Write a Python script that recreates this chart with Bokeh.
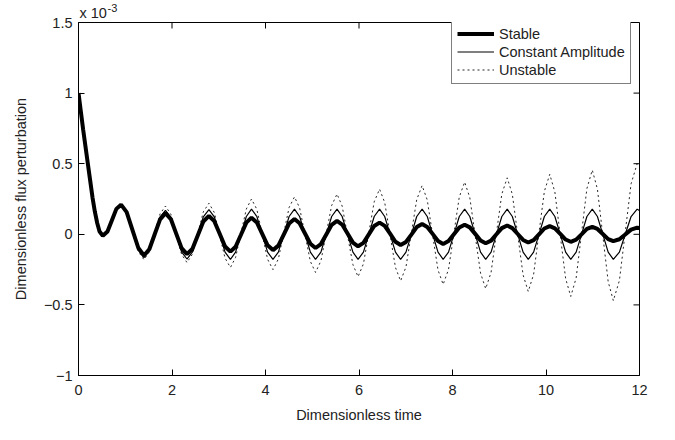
from bokeh.plotting import figure
from bokeh.models import (Range1d, FixedTicker, Legend, LegendItem, Title)
from bokeh.embed import file_html
from bokeh.resources import INLINE

# Dimensionless time
t = [0, 0.05, 0.10, 0.15, 0.20, 0.25, 0.30, 0.35, 0.40, 0.45, 0.52, 0.62, 0.715, 0.81, 0.91,
     1.03, 1.155, 1.28, 1.40, 1.515, 1.63, 1.745, 1.86, 1.975, 2.09, 2.205, 2.32,
     2.44, 2.555, 2.67, 2.79, 2.905, 3.02, 3.135, 3.25, 3.36, 3.475, 3.59, 3.70,
     3.815, 3.93, 4.045, 4.16, 4.275, 4.39, 4.505, 4.62, 4.73, 4.845, 4.96, 5.07,
     5.185, 5.30, 5.415, 5.53, 5.64, 5.755, 5.87, 5.98, 6.095, 6.21, 6.325, 6.44,
     6.55, 6.665, 6.78, 6.89, 7.005, 7.12, 7.235, 7.35, 7.46, 7.575, 7.69, 7.80,
     7.915, 8.03, 8.145, 8.26, 8.37, 8.485, 8.60, 8.71, 8.825, 8.94, 9.055, 9.17,
     9.28, 9.395, 9.51, 9.62, 9.735, 9.85, 9.965, 10.08, 10.19, 10.305, 10.42, 10.53,
     10.645, 10.76, 10.875, 10.99, 11.10, 11.215, 11.33, 11.44, 11.57, 11.695, 11.82, 11.95,
     12.0]

# Flux perturbation, in units of 1e-3
start = [1.00, 0.87, 0.74, 0.62, 0.50, 0.38, 0.26, 0.16, 0.08, 0.02, -0.01, 0.02, 0.10, 0.18, 0.21]

stable = start + [
    0.157, 0.03, -0.097, -0.15, -0.106, 0.0, 0.106, 0.15, 0.108, 0.005, -0.098, -0.14,
    -0.101, -0.005, 0.091, 0.13, 0.093, 0.004, -0.086, -0.123, -0.088, -0.003, 0.083, 0.118,
    0.084, 0.003, -0.078, -0.112, -0.080, -0.002, 0.076, 0.108, 0.078, 0.006, -0.067, -0.097,
    -0.069, -0.001, 0.067, 0.095, 0.069, 0.005, -0.059, -0.085, -0.061, -0.001, 0.059, 0.083,
    0.060, 0.004, -0.053, -0.076, -0.054, -0.002, 0.051, 0.073, 0.052, 0.003, -0.047, -0.068,
    -0.048, 0.0, 0.048, 0.068, 0.049, 0.003, -0.044, -0.063, -0.045, 0.0, 0.044, 0.062,
    0.044, 0.002, -0.040, -0.058, -0.041, 0.0, 0.041, 0.058, 0.042, 0.003, -0.037, -0.053,
    -0.038, 0.0, 0.038, 0.053, 0.038, 0.002, -0.034, -0.049, -0.035, -0.001, 0.033, 0.047,
    0.044]

constant = start + [
    0.155, 0.023, -0.110, -0.165, -0.116, 0.003, 0.121, 0.17, 0.120, -0.003, -0.125, -0.175,
    -0.124, 0.0, 0.124, 0.175, 0.124, -0.002, -0.126, -0.178, -0.126, 0.0, 0.126, 0.178,
    0.126, 0.0, -0.126, -0.178, -0.126, 0.0, 0.126, 0.178, 0.126, 0.0, -0.126, -0.178,
    -0.126, 0.0, 0.126, 0.178, 0.126, 0.0, -0.126, -0.178, -0.126, 0.0, 0.126, 0.178,
    0.126, 0.0, -0.126, -0.178, -0.126, 0.0, 0.126, 0.178, 0.126, 0.0, -0.126, -0.178,
    -0.126, 0.0, 0.126, 0.178, 0.126, 0.0, -0.126, -0.178, -0.126, 0.0, 0.126, 0.178,
    0.126, 0.0, -0.126, -0.178, -0.126, 0.0, 0.126, 0.178, 0.126, 0.0, -0.126, -0.178,
    -0.126, 0.0, 0.126, 0.178, 0.126, 0.0, -0.126, -0.178, -0.126, 0.0, 0.126, 0.178,
    0.168]

unstable = start + [
    0.153, 0.015, -0.123, -0.18, -0.125, 0.01, 0.145, 0.20, 0.142, 0.0, -0.142, -0.20,
    -0.139, 0.01, 0.159, 0.22, 0.154, -0.008, -0.169, -0.235, -0.164, 0.008, 0.179, 0.25,
    0.177, 0.0, -0.177, -0.25, -0.175, 0.008, 0.190, 0.265, 0.187, -0.003, -0.192, -0.27,
    -0.189, 0.008, 0.204, 0.285, 0.200, -0.008, -0.215, -0.30, -0.209, 0.01, 0.230, 0.32,
    0.225, -0.005, -0.235, -0.33, -0.231, 0.008, 0.246, 0.345, 0.243, -0.005, -0.253, -0.355,
    -0.249, 0.008, 0.264, 0.37, 0.260, -0.008, -0.275, -0.385, -0.270, 0.008, 0.285, 0.40,
    0.283, -0.003, -0.288, -0.405, -0.284, 0.01, 0.304, 0.425, 0.299, -0.008, -0.314, -0.44,
    -0.309, 0.008, 0.324, 0.455, 0.320, -0.008, -0.335, -0.47, -0.328, 0.015, 0.358, 0.50,
    0.48]

series_names = ["Stable", "Constant Amplitude", "Unstable"]
x_ticks = [0, 2, 4, 6, 8, 10, 12]
y_ticks = [-1, -0.5, 0, 0.5, 1, 1.5]
y_tick_labels = ["\u22121", "\u22120.5", "0", "0.5", "1", "1.5"]
X0, X1, Y0, Y1 = 0, 12, -1, 1.5

FONT = "Liberation Sans"
TXT = "#222222"
FS = "14.5px"

p = figure(width=659, height=428, output_backend="svg", toolbar_location=None,
           x_range=Range1d(X0, X1), y_range=Range1d(Y0, Y1),
           min_border_left=78, min_border_right=20, min_border_top=22, min_border_bottom=53,
           background_fill_color="white", border_fill_color="white")
p.grid.visible = False
p.outline_line_color = "black"
p.outline_line_width = 1

for ax in (p.xaxis[0], p.yaxis[0]):
    ax.axis_line_color = "black"
    ax.axis_line_width = 1
    ax.major_tick_line_color = "black"
    ax.major_tick_in = 6
    ax.major_tick_out = 0
    ax.minor_tick_line_color = None
    ax.major_label_text_font = FONT
    ax.major_label_text_color = TXT
    ax.major_label_text_font_size = FS
    ax.axis_label_text_font = FONT
    ax.axis_label_text_font_size = FS
    ax.axis_label_text_font_style = "normal"
    ax.axis_label_text_color = TXT

p.xaxis.ticker = FixedTicker(ticks=x_ticks)
p.yaxis.ticker = FixedTicker(ticks=y_ticks)
p.yaxis.major_label_overrides = {v: s for v, s in zip(y_ticks, y_tick_labels)}
p.xaxis.axis_label = "Dimensionless time"
p.yaxis.axis_label = "Dimensionless flux perturbation"
p.xaxis.major_label_standoff = 9
p.xaxis.axis_label_standoff = 9
p.yaxis.major_label_standoff = 6
p.yaxis.axis_label_standoff = 12

# inward ticks on the top and right edges of the box (6 px long)
tick_dy = 6 / 141.2 * (Y1 - Y0) / 2.5
tick_dx = 6 / 46.75 * (X1 - X0) / 12
p.segment(x0=x_ticks, y0=[Y1] * len(x_ticks), x1=x_ticks, y1=[Y1 - tick_dy] * len(x_ticks),
          line_color="black", line_width=1)
p.segment(x0=[X1] * len(y_ticks), y0=y_ticks, x1=[X1 - tick_dx] * len(y_ticks), y1=y_ticks,
          line_color="black", line_width=1)

r_u = p.line(t, unstable, line_color="black", line_width=1, line_dash="2 3", line_alpha=0.85)
r_c = p.line(t, constant, line_color="black", line_width=1.2)
r_s = p.line(t, stable, line_color="black", line_width=4)

# axis multiplier "x 10^-3" above the top-left corner
p.add_layout(Title(text="x 10", align="left", text_font=FONT, text_font_size=FS,
                   text_font_style="normal", text_color=TXT, standoff=4, offset=1), "above")
p.add_layout(Title(text="-3", align="left", text_font=FONT, text_font_size="11px",
                   text_font_style="normal", text_color=TXT, standoff=-22, offset=29), "above")

legend = Legend(items=[LegendItem(label=series_names[0], renderers=[r_s]),
                       LegendItem(label=series_names[1], renderers=[r_c]),
                       LegendItem(label=series_names[2], renderers=[r_u])],
                location=(373, 291))
legend.label_text_font = FONT
legend.label_text_font_size = FS
legend.label_text_color = TXT
legend.border_line_color = "black"
legend.border_line_width = 1
legend.background_fill_alpha = 1
legend.padding = 5
legend.spacing = 1
legend.margin = 0
legend.glyph_width = 37
legend.glyph_height = 17
legend.label_height = 17
legend.label_standoff = 5
p.add_layout(legend, "center")

open("out.html", "w").write(file_html(p, INLINE))
